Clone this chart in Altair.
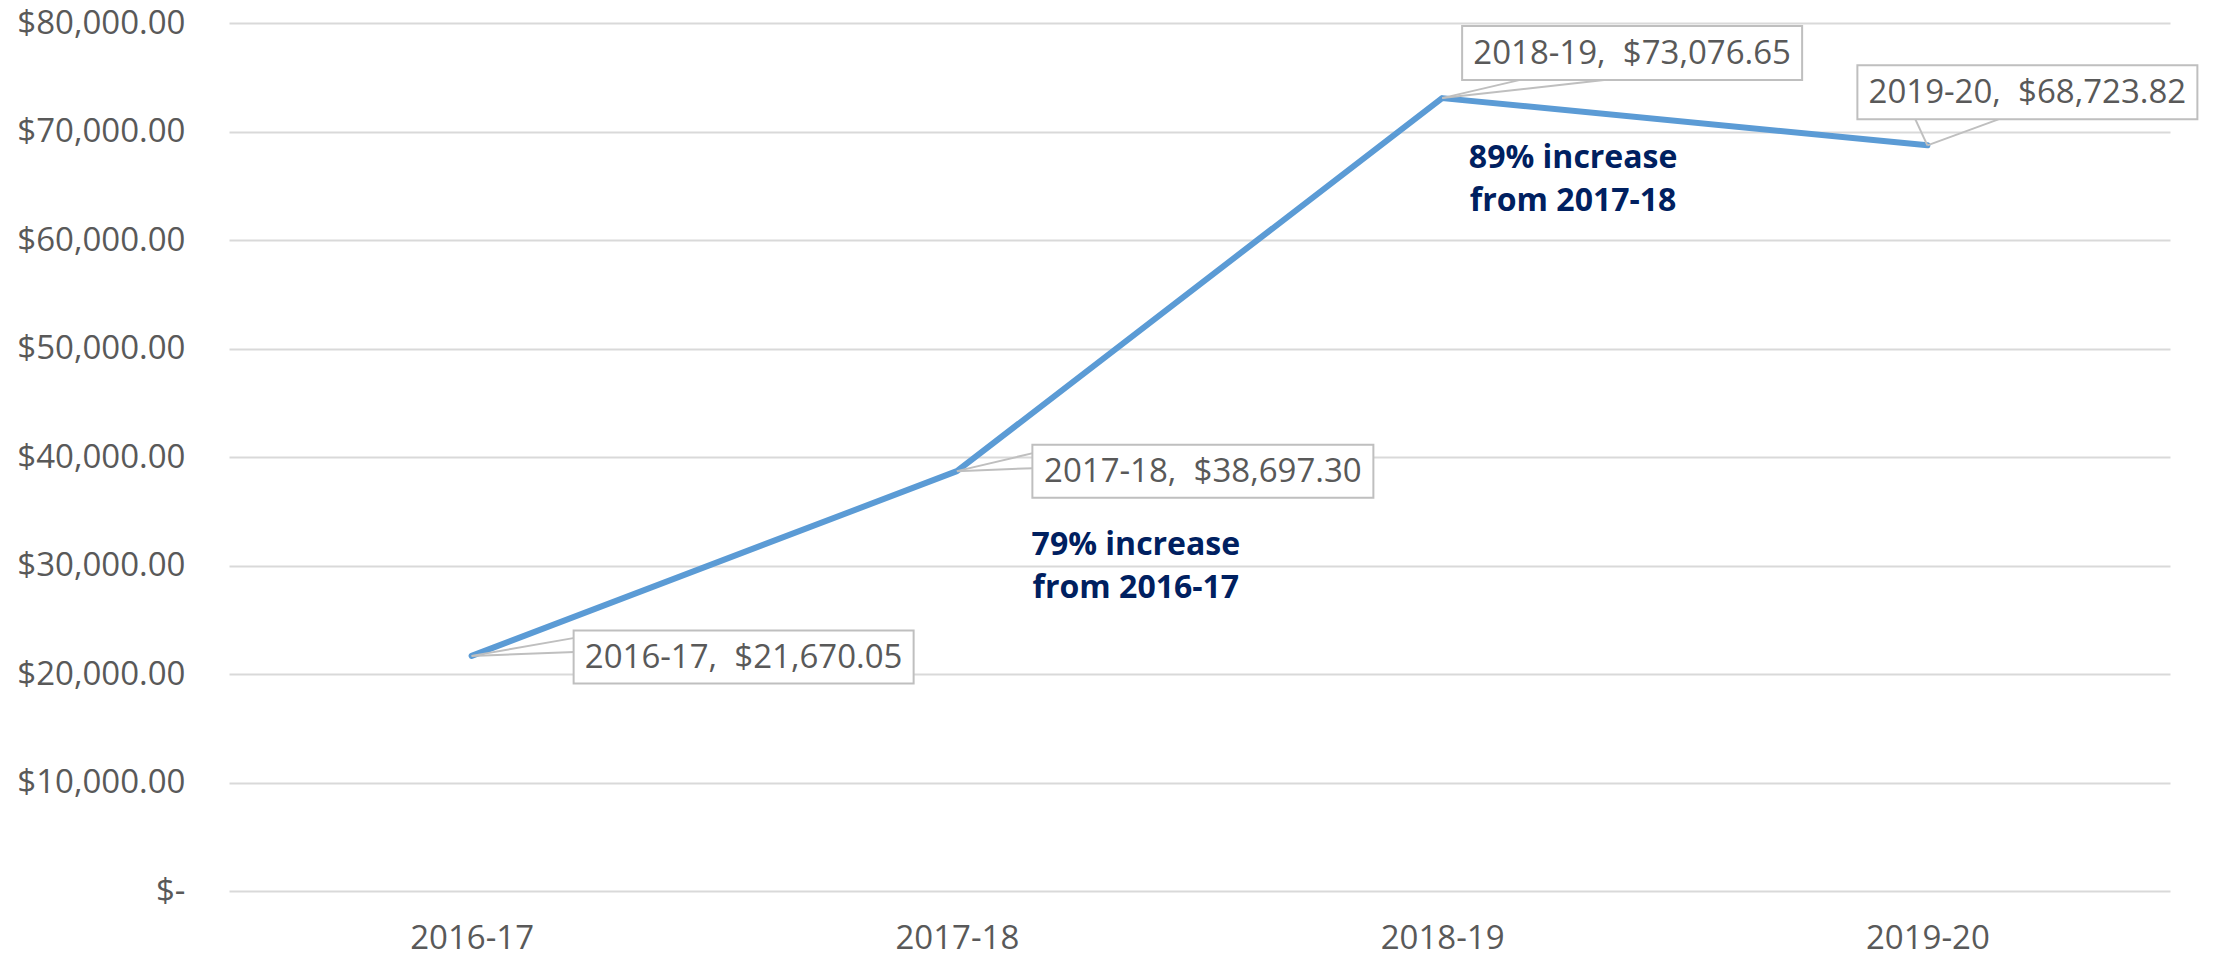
import altair as alt
import pandas as pd

# ---- data ----
periods = ["2016-17", "2017-18", "2018-19", "2019-20"]
amounts = [21670.05, 38697.30, 73076.65, 68723.82]
y_ticks = [0, 10000, 20000, 30000, 40000, 50000, 60000, 70000, 80000]
anno_periods = ["2017-18", "2018-19"]
anno_texts = [["79% increase", "from 2016-17"], ["89% increase", "from 2017-18"]]

df = pd.DataFrame({"period": periods, "amount": amounts})
df["label"] = [f"{p},\u00a0 ${a:,.2f}" for p, a in zip(periods, amounts)]

FONT = "Open Sans"
GREY_TXT = "#595959"
BOX_STROKE = "#bfbfbf"

x_enc = alt.X(
    "period:N",
    sort=periods,
    scale=alt.Scale(type="point", padding=0.5),
    axis=alt.Axis(
        title=None, labelAngle=0, labelFont=FONT, labelFontSize=33,
        labelColor=GREY_TXT, ticks=False, tickSize=0, domain=False,
        grid=False, labelPadding=57, labelBaseline="alphabetic",
    ),
)
y_enc = alt.Y(
    "amount:Q",
    scale=alt.Scale(domain=[0, 80000], nice=False),
    axis=alt.Axis(
        title=None, values=y_ticks, labelFont=FONT, labelFontSize=33,
        labelColor=GREY_TXT, ticks=False, tickSize=0, domain=False,
        grid=True, gridColor="#d9d9d9", gridWidth=2, labelPadding=44,
        labelExpr="datum.value == 0 ? '$-\u00a0\u00a0' : '$' + format(datum.value, ',.2f')",
    ),
)

base = alt.Chart(df).encode(x=x_enc, y=y_enc)

layers = [base.mark_line(color="#5B9BD5", strokeWidth=6, strokeCap="round", strokeJoin="round")]

# callout geometry (pixel offsets from each data point): box centre, box size, wedge ends
callouts = [
    dict(cx=272, cy=1, w=340, h=53, w1=(103, -18), w2=(103, -4)),
    dict(cx=246, cy=0, w=341, h=53, w1=(76, -18), w2=(76, -3)),
    dict(cx=190, cy=-45, w=340, h=54, w1=(77, -18), w2=(162, -18)),
    dict(cx=100, cy=-53, w=340, h=54, w1=(-12, -26), w2=(71, -26)),
]

rule_layers, rect_layers, text_layers = [], [], []
for p, c in zip(periods, callouts):
    sub = base.transform_filter(alt.datum.period == p)
    for (dx, dy) in (c["w1"], c["w2"]):
        rule_layers.append(
            sub.mark_rule(color=BOX_STROKE, strokeWidth=2, x2Offset=dx, y2Offset=dy)
            .encode(x2="period:N", y2="amount:Q")
        )
    rect_layers.append(
        sub.mark_rect(
            fill="white", stroke=BOX_STROKE, strokeWidth=2,
            xOffset=c["cx"] - c["w"] / 2, x2Offset=c["cx"] + c["w"] / 2,
            yOffset=c["cy"] - c["h"] / 2, y2Offset=c["cy"] + c["h"] / 2,
        ).encode(x2="period:N", y2="amount:Q")
    )
    text_layers.append(
        sub.mark_text(
            dx=c["cx"], dy=c["cy"] + 1, align="center", baseline="middle",
            font=FONT, fontSize=33, color=GREY_TXT,
        ).encode(text="label:N")
    )

anno_offsets = [(179, 84), (131, 70)]
anno_layers = []
for p, t, (dx, dy) in zip(anno_periods, anno_texts, anno_offsets):
    anno_layers.append(
        base.transform_filter(alt.datum.period == p).mark_text(
            text=t, dx=dx, dy=dy, align="center", baseline="alphabetic",
            lineHeight=43, font=FONT, fontSize=32, fontWeight="bold", color="#002060",
        )
    )

chart = (
    alt.layer(*layers, *rule_layers, *rect_layers, *text_layers, *anno_layers)
    .properties(
        width=1941, height=868,
        autosize=alt.AutoSizeParams(type="none"),
        padding={"left": 229, "top": 23, "right": 43, "bottom": 66},
        background="white",
    )
    .configure_view(stroke=None)
)

chart.save("out.html", embed_options={"renderer": "svg", "actions": False})
